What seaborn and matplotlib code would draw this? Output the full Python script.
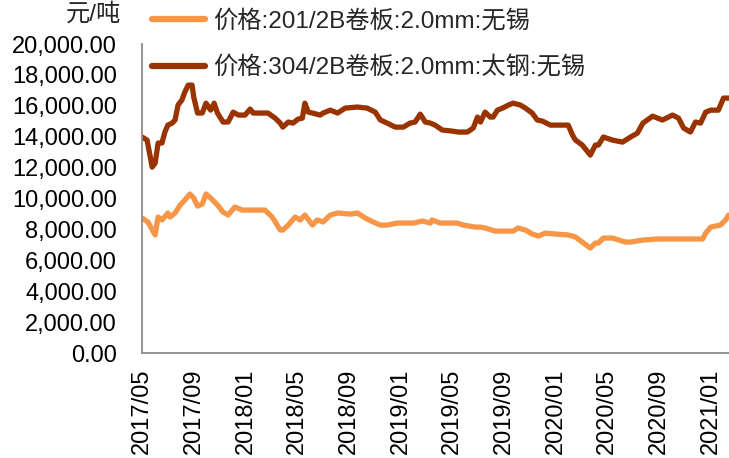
import pandas as pd
import matplotlib
matplotlib.use("Agg")
import matplotlib.pyplot as plt
import matplotlib.dates as mdates
import matplotlib.ticker as mticker
import seaborn as sns

sns.set_theme(style="white")
plt.rcParams["font.family"] = ["Liberation Sans", "Noto Sans CJK SC", "DejaVu Sans"]

# ── data ─────────────────────────────────────────────────────────────────────
LABEL_201 = "价格:201/2B卷板:2.0mm:无锡"
LABEL_304 = "价格:304/2B卷板:2.0mm:太钢:无锡"

dates_304 = ["2017-05-01", "2017-05-13", "2017-05-25", "2017-06-01", "2017-06-08", "2017-06-17",
             "2017-06-24", "2017-07-01", "2017-07-11", "2017-07-18", "2017-07-25", "2017-08-03",
             "2017-08-10", "2017-08-18", "2017-08-27", "2017-08-31", "2017-09-09", "2017-09-20",
             "2017-09-29", "2017-10-10", "2017-10-18", "2017-10-26", "2017-11-08", "2017-11-20",
             "2017-12-02", "2017-12-14", "2017-12-30", "2018-01-11", "2018-01-18", "2018-02-22",
             "2018-03-11", "2018-03-23", "2018-03-29", "2018-04-11", "2018-04-22", "2018-05-04",
             "2018-05-14", "2018-05-20", "2018-05-28", "2018-06-07", "2018-06-25", "2018-07-02",
             "2018-07-19", "2018-08-05", "2018-08-23", "2018-09-21", "2018-10-14", "2018-11-02",
             "2018-11-14", "2018-11-30", "2018-12-19", "2019-01-07", "2019-01-23", "2019-02-04",
             "2019-02-16", "2019-02-28", "2019-03-12", "2019-03-23", "2019-04-09", "2019-05-03",
             "2019-05-17", "2019-06-07", "2019-06-21", "2019-07-01", "2019-07-08", "2019-07-19",
             "2019-07-31", "2019-08-07", "2019-08-17", "2019-08-29", "2019-09-12", "2019-09-23",
             "2019-10-10", "2019-10-22", "2019-11-07", "2019-11-19", "2019-12-01", "2019-12-20",
             "2020-01-08", "2020-01-31", "2020-02-10", "2020-02-17", "2020-03-04", "2020-03-23",
             "2020-04-04", "2020-04-11", "2020-04-23", "2020-05-14", "2020-06-07", "2020-06-26",
             "2020-07-12", "2020-07-25", "2020-08-17", "2020-09-09", "2020-10-03", "2020-10-17",
             "2020-10-29", "2020-11-14", "2020-11-26", "2020-12-08", "2020-12-20", "2021-01-01",
             "2021-01-19", "2021-01-31", "2021-02-12"]
price_304 = [13980, 13780, 12030, 12290, 13590, 13590,
             14300, 14750, 14880, 15080, 16050, 16370,
             16890, 17340, 17340, 16560, 15530, 15530,
             16170, 15720, 16170, 15530, 14950, 14950,
             15590, 15400, 15400, 15790, 15530, 15530,
             15200, 14880, 14620, 14950, 14880, 15140,
             15200, 16170, 15590, 15530, 15400, 15530,
             15720, 15530, 15850, 15920, 15850, 15590,
             15080, 14880, 14620, 14620, 14880, 14950,
             15460, 14950, 14880, 14750, 14430, 14360,
             14300, 14300, 14560, 15270, 14950, 15590,
             15270, 15270, 15720, 15850, 16050, 16170,
             16050, 15850, 15530, 15080, 15010, 14750,
             14750, 14750, 14100, 13780, 13460, 12810,
             13460, 13460, 13980, 13780, 13650, 13980,
             14230, 14880, 15330, 15080, 15400, 15200,
             14560, 14300, 14950, 14880, 15590, 15720,
             15720, 16500, 16500]

dates_201 = ["2017-05-01", "2017-05-15", "2017-06-01", "2017-06-08", "2017-06-17", "2017-07-01",
             "2017-07-06", "2017-07-18", "2017-07-30", "2017-08-10", "2017-08-22", "2017-08-31",
             "2017-09-09", "2017-09-20", "2017-09-29", "2017-10-10", "2017-10-26", "2017-11-08",
             "2017-11-20", "2017-12-06", "2017-12-23", "2018-02-15", "2018-03-04", "2018-03-23",
             "2018-03-29", "2018-04-11", "2018-04-27", "2018-05-09", "2018-05-20", "2018-06-07",
             "2018-06-18", "2018-07-02", "2018-07-19", "2018-08-05", "2018-09-04", "2018-09-21",
             "2018-10-09", "2018-10-28", "2018-11-14", "2018-11-30", "2018-12-24", "2019-01-07",
             "2019-01-31", "2019-02-21", "2019-03-12", "2019-03-16", "2019-04-04", "2019-05-14",
             "2019-05-29", "2019-06-26", "2019-07-08", "2019-07-19", "2019-08-12", "2019-09-23",
             "2019-10-05", "2019-10-22", "2019-11-07", "2019-11-22", "2019-12-08", "2020-01-01",
             "2020-01-31", "2020-02-17", "2020-03-04", "2020-03-23", "2020-04-04", "2020-04-11",
             "2020-04-23", "2020-05-14", "2020-06-14", "2020-06-26", "2020-07-25", "2020-08-31",
             "2020-12-13", "2020-12-20", "2021-01-01", "2021-01-24", "2021-02-05", "2021-02-12"]
price_201 = [8740, 8480, 7640, 8800, 8610, 9060,
             8800, 9060, 9580, 9900, 10290, 10030,
             9510, 9640, 10290, 10030, 9580, 9120,
             8930, 9450, 9250, 9250, 8800, 7960,
             7960, 8280, 8800, 8610, 8930, 8280,
             8610, 8480, 8930, 9060, 8990, 9060,
             8740, 8480, 8280, 8280, 8410, 8410,
             8410, 8540, 8410, 8610, 8410, 8410,
             8280, 8150, 8150, 8090, 7890, 7890,
             8090, 7960, 7700, 7570, 7760, 7700,
             7640, 7510, 7180, 6790, 7120, 7120,
             7440, 7440, 7180, 7180, 7310, 7380,
             7380, 7760, 8150, 8280, 8610, 8930]

df = pd.concat([
    pd.DataFrame({"date": pd.to_datetime(dates_201), "price": price_201, "series": LABEL_201}),
    pd.DataFrame({"date": pd.to_datetime(dates_304), "price": price_304, "series": LABEL_304}),
])

# ── plot ─────────────────────────────────────────────────────────────────────
fig = plt.figure(figsize=(7.29, 4.58), dpi=100)
ax = fig.add_axes([142/729, 1 - 353/458, 1 - 142/729, (353 - 44)/458])

sns.lineplot(data=df, x="date", y="price", hue="series",
             hue_order=[LABEL_201, LABEL_304],
             palette={LABEL_201: "#F79646", LABEL_304: "#993300"},
             lw=3.8, ax=ax)

ax.set_xlim(pd.Timestamp("2017-05-01"), pd.Timestamp("2021-02-13"))
ax.set_ylim(0, 20000)
ax.yaxis.set_major_locator(mticker.MultipleLocator(2000))
ax.yaxis.set_major_formatter(mticker.FuncFormatter(lambda v, _: f"{v:,.2f}"))
ax.xaxis.set_major_locator(mdates.MonthLocator(bymonth=[1, 5, 9]))
ax.xaxis.set_major_formatter(mdates.DateFormatter("%Y/%m"))
ax.set_xlabel(""); ax.set_ylabel("")

for s in ["top", "right"]:
    ax.spines[s].set_visible(False)
for s in ["left", "bottom"]:
    ax.spines[s].set_color("#8c8c8c"); ax.spines[s].set_linewidth(1.3)
ax.tick_params(axis="both", which="major", direction="out", length=6, width=1.3,
               color="#8c8c8c", labelsize=17, labelcolor="black")
ax.tick_params(axis="y", pad=12)
ax.tick_params(axis="x", labelrotation=90, pad=5)

leg = ax.legend(loc="upper left", bbox_to_anchor=(152/729, 1 - 10/458), bbox_transform=fig.transFigure,
                frameon=False, fontsize=17.5, handlelength=2.2, handletextpad=0.3,
                labelspacing=0.95, borderpad=0, borderaxespad=0)
for h in leg.get_lines():
    h.set_linewidth(4.5)

fig.text(93/729, 1 - 14/458, "元/吨", ha="center", va="center", fontsize=17.5)

fig.savefig("out.png", dpi=100)
